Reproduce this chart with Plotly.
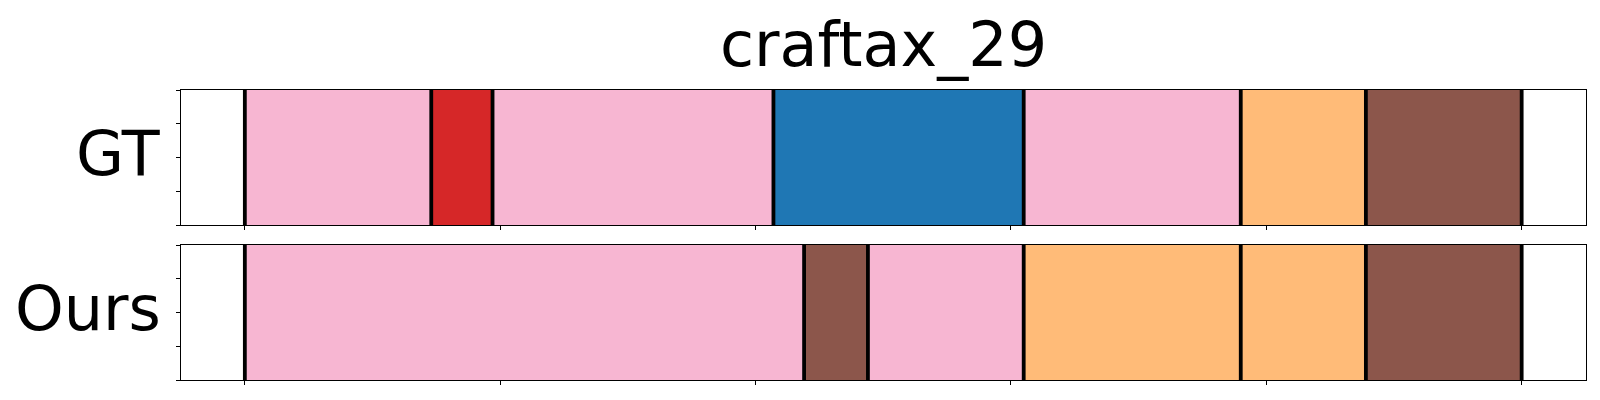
import plotly.graph_objects as go

title = "craftax_29"
row_labels = ["GT", "Ours"]

gt_starts = [0, 73, 97, 207, 305, 390, 439]
gt_ends = [73, 97, 207, 305, 390, 439, 500]
gt_actions = ["pink", "red", "pink", "blue", "pink", "orange", "brown"]

ours_starts = [0, 219, 244, 305, 390, 439]
ours_ends = [219, 244, 305, 390, 439, 500]
ours_actions = ["pink", "brown", "pink", "orange", "orange", "brown"]

x_ticks = [0, 100, 200, 300, 400, 500]
y_ticks = [0, 0.25, 0.5, 0.75, 1.0]

color_map = {
    "pink": "#f7b6d2",
    "red": "#d62728",
    "blue": "#1f77b4",
    "orange": "#ffbb78",
    "brown": "#8c564b",
}

# page body has an 8px margin; lay out in page pixels and compensate
OFF = 8
W, H = 1600 - OFF, 400 - OFF
left_px, right_px = 181 - OFF, 1585.5 - OFF
panels_px = [(90 - OFF, 225 - OFF), (245 - OFF, 380 - OFF)]

fig = go.Figure()

rows = [(gt_starts, gt_ends, gt_actions), (ours_starts, ours_ends, ours_actions)]
for i, (starts, ends, acts) in enumerate(rows):
    xa = "x" if i == 0 else "x2"
    ya = "y" if i == 0 else "y2"
    fig.add_trace(go.Bar(
        orientation="h",
        y=[0.5] * len(starts),
        x=[e - s for s, e in zip(starts, ends)],
        base=starts,
        width=1.0,
        marker=dict(color=[color_map[a] for a in acts], line=dict(width=0)),
        xaxis=xa, yaxis=ya, showlegend=False, hoverinfo="skip",
    ))
    bx, by = [], []
    for b in sorted(set(starts) | set(ends)):
        bx += [b, b, None]
        by += [0, 1, None]
    fig.add_trace(go.Scatter(
        x=bx, y=by, mode="lines",
        line=dict(color="black", width=3.8),
        xaxis=xa, yaxis=ya, showlegend=False, hoverinfo="skip",
    ))

axis_common = dict(
    showline=True, linecolor="black", linewidth=1.2, mirror=True,
    ticks="outside", ticklen=4, tickwidth=1, tickcolor="black",
    showticklabels=False, showgrid=False, zeroline=False,
)

dom_x = [left_px / W, right_px / W]
for i, (t, b) in enumerate(panels_px):
    sfx = "" if i == 0 else "2"
    fig.update_layout(**{
        "xaxis" + sfx: dict(domain=dom_x, range=[-25, 525], tickvals=x_ticks,
                            anchor="y" + sfx, **axis_common),
        "yaxis" + sfx: dict(domain=[1 - b / H, 1 - t / H], range=[0, 1], tickvals=y_ticks,
                            anchor="x" + sfx, **axis_common),
    })

font = dict(family="DejaVu Sans", size=62, color="black")
annotations = [
    dict(text=title, x=(left_px + right_px) / 2 / W, y=1 - (45 - OFF) / H, xref="paper", yref="paper",
         xanchor="center", yanchor="middle", showarrow=False, font=font, borderpad=0),
]
for lab, (t, b) in zip(row_labels, panels_px):
    annotations.append(dict(text=lab, x=(162.5 - OFF) / W, y=1 - ((t + b) / 2 - 4.5) / H,
                            xref="paper", yref="paper",
                            xanchor="right", yanchor="middle", showarrow=False, font=font))

fig.update_layout(
    width=W, height=H, margin=dict(l=0, r=0, t=0, b=0),
    paper_bgcolor="white", plot_bgcolor="white",
    barmode="overlay", bargap=0,
    annotations=annotations,
)

fig.write_html("out.html")
